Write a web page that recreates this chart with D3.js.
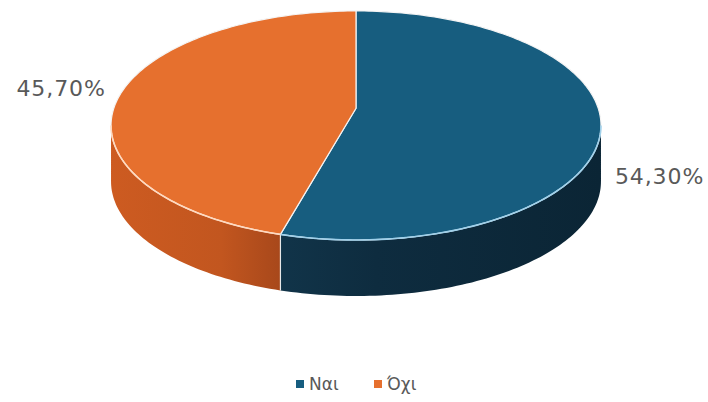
<!DOCTYPE html>
<html><head><meta charset="utf-8">
<script src="https://cdn.jsdelivr.net/npm/d3@7"></script>
<style>body{margin:0;background:#fff}svg{display:block}</style>
</head><body>
<svg id="c" width="708" height="402"></svg>
<script>
const categories = ["Ναι", "Όχι"];
const values = [54.3, 45.7];
const labels = ["54,30%", "45,70%"];
const topColors = ["#175d7f", "#e6702e"];
const rimColors = ["#9fd0ea", "#ffd9bf"];

const W = 708, H = 402;
// perspective-projected disc: x = cx + a*sin/(1+k cos), y = (e - b cos)/(1+k cos)
const k = 0.15, cx = 356, a = 242.2, e = 108.3, b = 95.7, depth = 56;
const svg = d3.select("#c");

const pie = d3.pie().sort(null).value(d => d)(values);
const px = t => cx + a * Math.sin(t) / (1 + k * Math.cos(t));
const py = t => (e - b * Math.cos(t)) / (1 + k * Math.cos(t));
const sil = Math.acos(-k); // silhouette angles

function arcPts(a0, a1, dy) {
  const n = Math.max(2, Math.ceil(Math.abs(a1 - a0) / 0.02));
  return d3.range(n + 1).map(i => {
    const t = a0 + (a1 - a0) * i / n;
    return [px(t), py(t) + dy];
  });
}

const defs = svg.append("defs");
const g1 = defs.append("linearGradient").attr("id", "gO").attr("x1", "0").attr("x2", "1");
g1.append("stop").attr("offset", "0").attr("stop-color", "#cd5b21");
g1.append("stop").attr("offset", "0.65").attr("stop-color", "#c2561f");
g1.append("stop").attr("offset", "1").attr("stop-color", "#a8481b");
const g0 = defs.append("linearGradient").attr("id", "gB").attr("x1", "0").attr("x2", "1");
g0.append("stop").attr("offset", "0").attr("stop-color", "#113449");
g0.append("stop").attr("offset", "0.3").attr("stop-color", "#0e2c3f");
g0.append("stop").attr("offset", "1").attr("stop-color", "#0b2535");
const sideFill = ["url(#gB)", "url(#gO)"];

const line = d3.line();
pie.forEach((p, i) => {
  const a0 = Math.max(p.startAngle, sil);
  const a1 = Math.min(p.endAngle, 2 * Math.PI - sil);
  if (a1 <= a0) return;
  const topPts = arcPts(a0, a1, 0);
  const botPts = arcPts(a1, a0, depth);
  svg.append("path").attr("d", line(topPts.concat(botPts)) + "Z")
    .attr("fill", sideFill[i]);
});
pie.forEach(p => {
  const t = p.endAngle;
  if (t > sil && t < 2 * Math.PI - sil) {
    svg.append("line").attr("x1", px(t)).attr("y1", py(t)).attr("x2", px(t)).attr("y2", py(t) + depth)
      .attr("stroke", "#e8e8e8").attr("stroke-width", 1.2);
  }
});
pie.forEach((p, i) => {
  const pts = [[cx, e]].concat(arcPts(p.startAngle, p.endAngle, 0));
  svg.append("path").attr("d", line(pts) + "Z")
    .attr("fill", topColors[i]).attr("stroke", "#f4f4f4").attr("stroke-width", 1.2)
    .attr("stroke-linejoin", "round");
});
pie.forEach((p, i) => {
  const a0 = Math.max(p.startAngle, sil);
  const a1 = Math.min(p.endAngle, 2 * Math.PI - sil);
  if (a1 <= a0) return;
  svg.append("path").attr("d", line(arcPts(a0, a1, 0)))
    .attr("fill", "none").attr("stroke", rimColors[i]).attr("stroke-width", 1.6);
});

// data labels
pie.forEach((p, i) => {
  const m = (p.startAngle + p.endAngle) / 2;
  const right = Math.sin(m) > 0;
  svg.append("text")
    .attr("x", right ? px(m) + 14 : px(m) - 15)
    .attr("y", right ? py(m) + 60 : py(m) + 2)
    .attr("text-anchor", right ? "start" : "end")
    .attr("font-family", "DejaVu Sans, sans-serif")
    .attr("font-size", 22).attr("letter-spacing", 0.9)
    .attr("fill", "#595959")
    .text(labels[i]);
});

// legend
const lg = svg.append("g").attr("transform", "translate(296,380)");
const offs = [0, 78];
categories.forEach((c, i) => {
  const it = lg.append("g").attr("transform", `translate(${offs[i]},0)`);
  it.append("rect").attr("width", 8).attr("height", 8).attr("fill", topColors[i]);
  it.append("text").attr("x", 13).attr("y", 10).attr("font-family", "DejaVu Sans, sans-serif")
    .attr("font-size", 17).attr("fill", "#595959").text(c);
});
</script>
</body></html>
